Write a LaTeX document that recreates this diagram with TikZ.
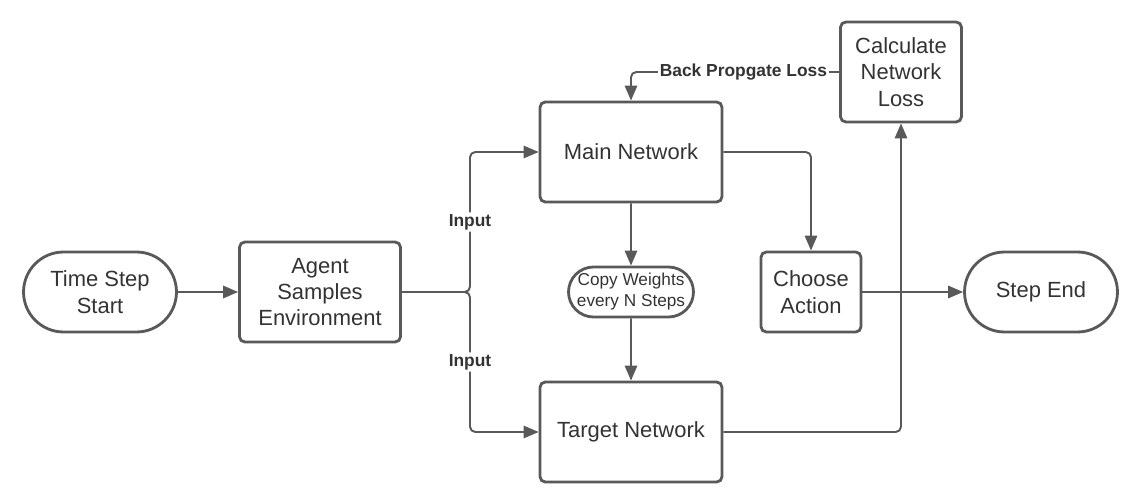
\documentclass[tikz,border=0pt]{standalone}
\usepackage{fontspec}
\setmainfont{Liberation Sans}
\usepackage{tikz}
\usetikzlibrary{arrows.meta,shapes.misc}
\definecolor{linegray}{HTML}{595959}
\definecolor{textgray}{HTML}{333333}

\begin{document}
\begin{tikzpicture}[x=0.02cm, y=-0.02cm, font=\fontsize{12.5}{15}\selectfont, text=textgray,
    box/.style = {draw=linegray, line width=1.6pt, rounded corners=3pt, align=center, inner sep=2pt},
    term/.style = {draw=linegray, line width=1.6pt, rounded rectangle, align=center, inner sep=2pt},
    arr/.style = {draw=linegray, line width=1.1pt, rounded corners=3pt, -{Triangle[length=8.5pt, width=7pt]}},
    lbl/.style = {fill=white, inner sep=1pt, font=\fontsize{9.9}{12}\selectfont\bfseries}]
          \useasboundingbox (0,0) rectangle (1143,503);
          % Define nodes
          \node[term, minimum width=3.2cm, minimum height=1.6cm] (start) at (100,292) {Time Step\\Start};
          \node[box, minimum width=3.22cm, minimum height=2cm] (agent) at (320,292) {Agent\\Samples\\Environment};
          \node[box, minimum width=3.64cm, minimum height=2cm] (main) at (631,152) {Main Network};
          \node[term, minimum width=2.64cm, minimum height=1cm, font=\fontsize{9.8}{12}\selectfont] (copy) at (631,292) {Copy Weights\\every N Steps};
          \node[box, minimum width=3.64cm, minimum height=2cm] (target) at (631,432) {Target Network};
          \node[box, minimum width=2.42cm, minimum height=2cm] (loss) at (901,72) {Calculate\\Network\\Loss};
          \node[box, minimum width=2cm, minimum height=1.6cm] (choose) at (811,292) {Choose\\Action};
          \node[term, minimum width=3.2cm, minimum height=1.6cm] (end) at (1041,292) {Step End};
          \coordinate (split) at (470,292);
          % Add edges
          \draw[arr] (start) -- (agent);
          \draw[arr] (agent.east) -- (split) |- node[lbl, pos=0.25] {Input} (main.west);
          \draw[arr] (agent.east) -- (split) |- node[lbl, pos=0.25] {Input} (target.west);
          \draw[arr] (main) -- (copy);
          \draw[arr] (copy) -- (target);
          \draw[arr] (main.east) -| (choose.north);
          \draw[arr] (target.east) -| (loss.south);
          \draw[arr] (choose) -- (end);
          \draw[arr] (loss.west) -| node[lbl, pos=0.23] {Back Propgate Loss} (main.north);
        \end{tikzpicture}
\end{document}
